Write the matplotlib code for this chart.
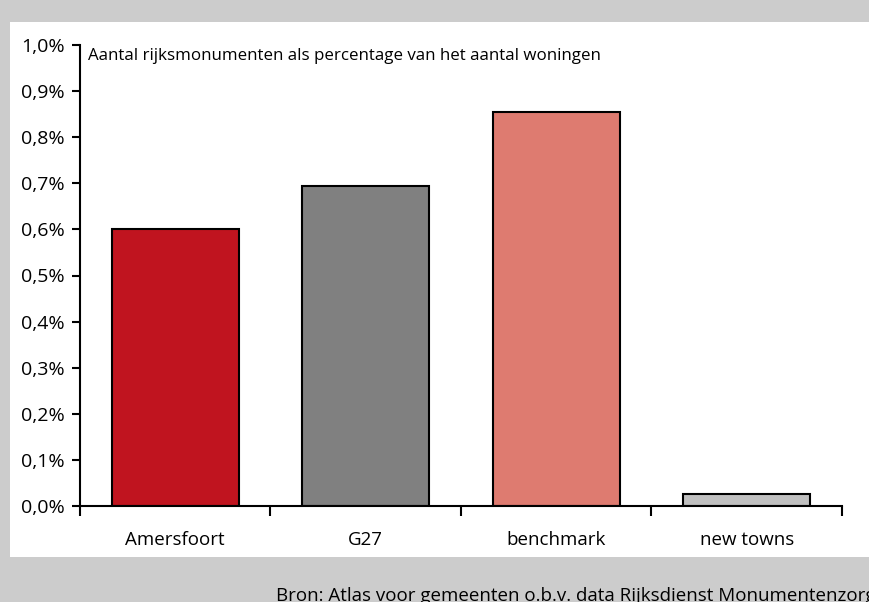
import matplotlib
matplotlib.use("Agg")
import matplotlib.pyplot as plt
from matplotlib.patches import Rectangle
from matplotlib.ticker import FuncFormatter, FixedLocator

categories = ["Amersfoort", "G27", "benchmark", "new towns"]
values = [0.601, 0.694, 0.855, 0.026]
colors = ["#c0141f", "#808080", "#de7b70", "#c0c0c0"]
yticks = [0.0, 0.1, 0.2, 0.3, 0.4, 0.5, 0.6, 0.7, 0.8, 0.9, 1.0]
title = "Aantal rijksmonumenten als percentage van het aantal woningen"
source = "Bron: Atlas voor gemeenten o.b.v. data Rijksdienst Monumentenzorg"

plt.rcParams['font.family'] = ['Open Sans', 'DejaVu Sans']
W, H = 870, 602
fig = plt.figure(figsize=(W/100, H/100), dpi=100)
fig.patch.set_facecolor("#cccccc")
# white panel
fig.patches.append(Rectangle((10/W, 1-557/H), (W-10)/W, (557-22)/H,
                             transform=fig.transFigure, facecolor="white",
                             edgecolor="none", zorder=-10))

ax = fig.add_axes([80/W, 1-506/H, (842-80)/W, (506-45)/H])
ax.set_zorder(5)
ax.set_facecolor("none")
x = range(len(categories))
ax.bar(x, values, width=0.667, color=colors, edgecolor="black", linewidth=1.5, zorder=2)
ax.set_xlim(-0.5, len(categories)-0.5)
ax.set_ylim(0, 1.0)
ax.yaxis.set_major_locator(FixedLocator(yticks))
ax.yaxis.set_major_formatter(FuncFormatter(lambda v, p: f"{v:.1f}%".replace(".", ",")))
ax.set_xticks([i + 0.5 for i in range(-1, len(categories))])
ax.set_xticklabels([])
ax.set_xticks(list(x), minor=True)
ax.set_xticklabels(categories, minor=True)
ax.tick_params(axis="x", which="minor", length=0, pad=18, labelsize=13.5)
ax.tick_params(axis="x", which="major", length=7, width=1.5, direction="out")
ax.tick_params(axis="y", length=6, width=1.5, direction="out", labelsize=14, pad=5)
for s in ["top", "right"]:
    ax.spines[s].set_visible(False)
for s in ["left", "bottom"]:
    ax.spines[s].set_linewidth(1.5)

fig.text(88/W, 1-56/H, title, fontsize=12.2, va="center", ha="left", zorder=6)
fig.text(276/W, 1-587/H, source, fontsize=13.5, va="top", ha="left")

fig.savefig("out.png", dpi=100, facecolor=fig.get_facecolor())
